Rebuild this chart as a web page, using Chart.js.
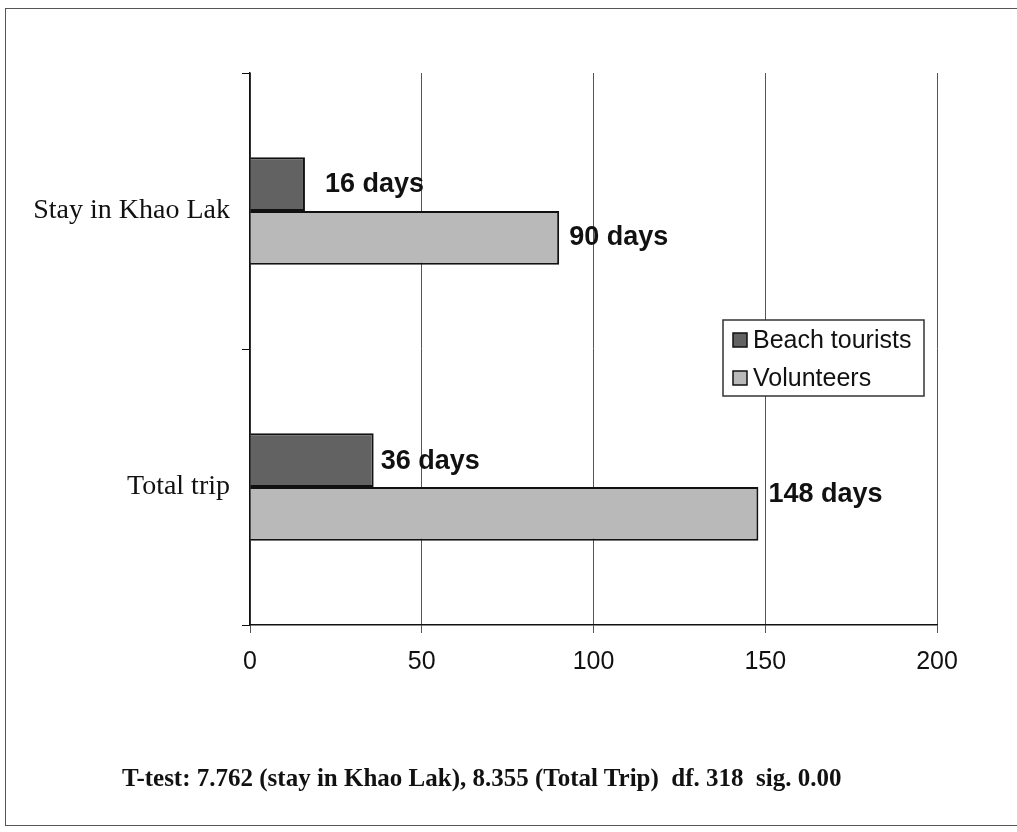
<!DOCTYPE html>
<html>
<head>
<meta charset="utf-8">
<style>
    html, body { margin: 0; padding: 0; background: #fff; }
    #wrap { position: relative; width: 1017px; height: 832px; overflow: hidden; }
    #frame { position: absolute; left: 5px; top: 8px; width: 1030px; height: 818px; border: 1.5px solid #555; box-sizing: border-box; }
    #chart { position: absolute; left: 0; top: 0; }
    #note { position: absolute; left: 122px; top: 764px; font: bold 25px "Liberation Serif", "Times New Roman", serif; color: #111; white-space: nowrap; }
</style>
</head>
<body>
<div id="wrap">
    <div id="frame"></div>
    <canvas id="chart" width="1017" height="832"></canvas>
    <div id="note">T-test: 7.762 (stay in Khao Lak), 8.355 (Total Trip)&nbsp; df. 318&nbsp; sig. 0.00</div>
</div>
<script src="https://cdn.jsdelivr.net/npm/chart.js@4.4.1/dist/chart.umd.min.js"></script>
<script>
// -------------------------------------------------------------------------
// Data
// -------------------------------------------------------------------------
const categories = ['Stay in Khao Lak', 'Total trip'];
const beachTourists = [16, 36];
const volunteers = [90, 148];
const xTicks = [0, 50, 100, 150, 200];

// label nudges (x, y) per dataset/category, purely cosmetic
const labelNudge = [
    [[20, 0], [7, 1]],
    [[10, 0], [10, -19]]
];

// -------------------------------------------------------------------------
// Plugins
// -------------------------------------------------------------------------
const dayLabels = {
    id: 'dayLabels',
    afterDatasetsDraw(chart) {
        const ctx = chart.ctx;
        ctx.save();
        ctx.font = 'bold 27px "Liberation Sans", Arial, sans-serif';
        ctx.fillStyle = '#111';
        ctx.textBaseline = 'middle';
        ctx.textAlign = 'left';
        chart.data.datasets.forEach((ds, di) => {
            chart.getDatasetMeta(di).data.forEach((bar, i) => {
                const n = labelNudge[di][i];
                ctx.fillText(ds.data[i] + ' days', bar.x + n[0], bar.y + n[1]);
            });
        });
        ctx.restore();
    }
};

const boxLegend = {
    id: 'boxLegend',
    afterDraw(chart) {
        const ctx = chart.ctx;
        const x = 723, y = 320, w = 201, h = 76;
        ctx.save();
        ctx.fillStyle = '#fff';
        ctx.fillRect(x, y, w, h);
        ctx.strokeStyle = '#333';
        ctx.lineWidth = 1.5;
        ctx.strokeRect(x, y, w, h);
        ctx.font = '25px "Liberation Sans", Arial, sans-serif';
        ctx.textBaseline = 'middle';
        chart.data.datasets.forEach((ds, i) => {
            const cy = y + 20 + i * 38;
            ctx.fillStyle = ds.backgroundColor;
            ctx.fillRect(x + 10, cy - 7, 14, 14);
            ctx.strokeStyle = '#111';
            ctx.lineWidth = 1.5;
            ctx.strokeRect(x + 10, cy - 7, 14, 14);
            ctx.fillStyle = '#111';
            ctx.fillText(ds.label, x + 30, cy + 1);
        });
        ctx.restore();
    }
};

// -------------------------------------------------------------------------
// Chart
// -------------------------------------------------------------------------
new Chart(document.getElementById('chart'), {
    type: 'bar',
    data: {
        labels: categories,
        datasets: [
            { label: 'Beach tourists', data: beachTourists, backgroundColor: '#626262', borderColor: '#111', borderWidth: 2 },
            { label: 'Volunteers', data: volunteers, backgroundColor: '#b9b9b9', borderColor: '#111', borderWidth: 2 }
        ]
    },
    options: {
        indexAxis: 'y',
        responsive: false,
        animation: false,
        categoryPercentage: 0.39,
        barPercentage: 1,
        layout: { padding: { top: 73, right: 80, left: 0, bottom: 0 } },
        plugins: { legend: { display: false }, tooltip: { enabled: false } },
        scales: {
            x: {
                min: 0,
                max: 200,
                afterBuildTicks: (axis) => { axis.ticks = xTicks.map(v => ({ value: v })); },
                afterFit: (axis) => { axis.height = 207; },
                grid: { color: '#555', lineWidth: 1, tickLength: 8 },
                border: { color: '#111', width: 1.5 },
                ticks: { color: '#111', padding: 14, font: { family: '"Liberation Sans", Arial, sans-serif', size: 25 } }
            },
            y: {
                afterFit: (axis) => { axis.width = 250; },
                grid: { drawOnChartArea: false, color: '#111', tickLength: 8 },
                border: { color: '#111', width: 1.5 },
                ticks: { color: '#111', padding: 12, font: { family: '"Liberation Serif", "Times New Roman", serif', size: 28 } }
            }
        }
    },
    plugins: [dayLabels, boxLegend]
});
</script>
</body>
</html>
